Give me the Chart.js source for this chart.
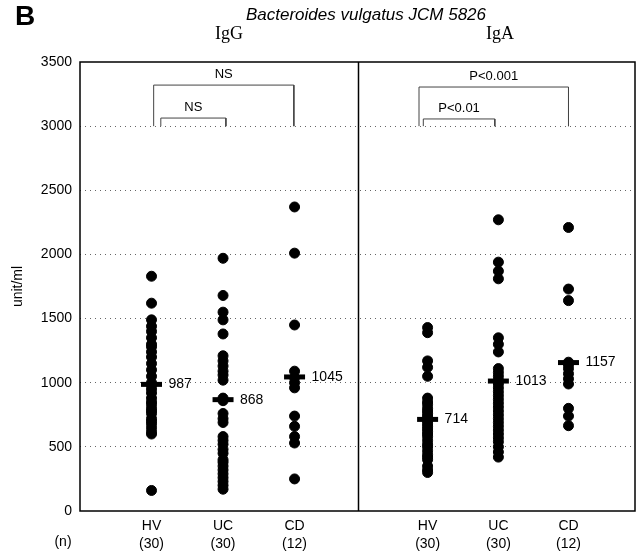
<!DOCTYPE html>
<html>
<head>
<meta charset="utf-8">
<script src="https://cdn.jsdelivr.net/npm/chart.js@4.4.1/dist/chart.umd.min.js"></script>
<style>
  html, body { margin: 0; padding: 0; background: #fff; overflow: hidden; }
  #wrap { width: 642px; height: 553px; position: relative; }
  canvas { display: block; }
</style>
</head>
<body>
<div id="wrap"><canvas id="chart"></canvas></div>
<script>
// ---- data ---------------------------------------------------------------
const GROUPS = ['HV', 'UC', 'CD'];
const GROUP_N = ['(30)', '(30)', '(12)'];
const PANELS = ['IgG', 'IgA'];

// x position of each group column (one unit = one group spacing)
const IGG_X = [1, 2, 3];
const IGA_X = [4.86, 5.85, 6.83];
const PANEL_SPLIT = 3.89;
const X_MAX = 7.76;

const Y_TICKS = [0, 500, 1000, 1500, 2000, 2500, 3000, 3500];

const IGG_HV = [1830, 1620, 1490, 1440, 1400, 1350, 1300, 1280, 1240, 1200, 1150, 1100, 1050, 1000, 980,
                950, 920, 880, 850, 830, 800, 780, 760, 720, 700, 680, 650, 620, 600, 160];
const IGG_UC = [1970, 1680, 1550, 1490, 1380, 1210, 1170, 1130, 1090, 1060, 1020, 880, 860, 760, 720,
                690, 580, 550, 520, 480, 450, 400, 380, 350, 320, 290, 260, 230, 200, 170];
const IGG_CD = [2370, 2010, 1450, 1090, 1040, 1000, 960, 740, 660, 580, 530, 250];

const IGA_HV = [1430, 1390, 1170, 1120, 1050, 880, 850, 830, 800, 780, 760, 740, 720, 700, 680,
                660, 640, 620, 600, 580, 550, 520, 500, 470, 440, 420, 400, 350, 320, 300];
const IGA_UC = [2270, 1940, 1870, 1810, 1350, 1300, 1240, 1110, 1080, 1050, 1020, 990, 960, 930, 900,
                870, 840, 810, 780, 750, 720, 690, 660, 630, 600, 570, 540, 500, 460, 420];
const IGA_CD = [2210, 1730, 1640, 1160, 1140, 1110, 1070, 1030, 990, 800, 740, 665];

const IGG_MEANS = [987, 868, 1045];
const IGA_MEANS = [714, 1013, 1157];

// significance brackets
const BRACKET_LABELS = ['NS', 'NS', 'P<0.001', 'P<0.01'];
const BRACKET_FROM = [1.03, 1.13, 4.74, 4.80];
const BRACKET_TO = [2.99, 2.04, 6.83, 5.80];
const BRACKET_TOP = [3320, 3063, 3305, 3056];
const BRACKET_FOOT = [3000, 3000, 3000, 3000];

// ---- build datasets ------------------------------------------------------
const FONT = '"Liberation Sans", Arial, sans-serif';
const SERIF = '"Liberation Serif", "Times New Roman", serif';

function dotSet(xPos, values) {
    return {
        type: 'scatter',
        data: values.map(v => ({ x: xPos, y: v })),
        backgroundColor: '#000',
        borderColor: '#000',
        borderWidth: 1,
        pointRadius: 5,
        pointHoverRadius: 5,
        order: 2
    };
}

const groupValues = [IGG_HV, IGG_UC, IGG_CD, IGA_HV, IGA_UC, IGA_CD];
const groupX = [...IGG_X, ...IGA_X];
const means = [...IGG_MEANS, ...IGA_MEANS];

const datasets = groupValues.map((vals, i) => dotSet(groupX[i], vals));

datasets.push({
    type: 'scatter',
    label: 'mean',
    data: means.map((m, i) => ({ x: groupX[i], y: m })),
    pointStyle: 'line',
    pointRadius: 10.5,
    pointHoverRadius: 10.5,
    borderColor: '#000',
    borderWidth: 5,
    order: 1
});

BRACKET_LABELS.forEach((lab, i) => {
    datasets.push({
        type: 'line',
        data: [
            { x: BRACKET_FROM[i], y: BRACKET_FOOT[i] },
            { x: BRACKET_FROM[i], y: BRACKET_TOP[i] },
            { x: BRACKET_TO[i], y: BRACKET_TOP[i] },
            { x: BRACKET_TO[i], y: BRACKET_FOOT[i] }
        ],
        borderColor: '#444',
        borderWidth: 1,
        pointRadius: 0,
        fill: false,
        tension: 0,
        order: 3
    });
});

// ---- extra drawing: frame, titles, labels --------------------------------
const decorations = {
    id: 'decorations',
    afterDatasetsDraw(chart) {
        const { ctx, chartArea: a, scales: { x, y } } = chart;
        ctx.save();

        // panel frame + divider
        ctx.strokeStyle = '#000';
        ctx.lineWidth = 1.5;
        ctx.strokeRect(a.left, a.top, a.right - a.left, a.bottom - a.top);
        const xs = Math.round(x.getPixelForValue(PANEL_SPLIT)) + 0.5;
        ctx.beginPath();
        ctx.moveTo(xs, a.top);
        ctx.lineTo(xs, a.bottom);
        ctx.stroke();

        ctx.fillStyle = '#000';

        // mean values
        ctx.font = '14px ' + FONT;
        ctx.textAlign = 'left';
        ctx.textBaseline = 'middle';
        means.forEach((m, i) => {
            ctx.fillText(String(m), x.getPixelForValue(groupX[i]) + 17, y.getPixelForValue(m));
        });

        // bracket labels
        ctx.font = '13px ' + FONT;
        ctx.textAlign = 'center';
        BRACKET_LABELS.forEach((lab, i) => {
            const cx = (x.getPixelForValue(BRACKET_FROM[i]) + x.getPixelForValue(BRACKET_TO[i])) / 2;
            ctx.fillText(lab, cx, y.getPixelForValue(BRACKET_TOP[i]) - 11);
        });

        // panel letter and titles
        ctx.font = 'bold 28px ' + FONT;
        ctx.fillText('B', 25, 17);
        ctx.font = 'italic 17px ' + FONT;
        ctx.fillText('Bacteroides vulgatus JCM 5826', 366, 15);
        ctx.font = '18px ' + SERIF;
        ctx.fillText(PANELS[0], 229, 34);
        ctx.fillText(PANELS[1], 500, 34);

        // (n) row caption
        ctx.font = '14px ' + FONT;
        ctx.fillText('(n)', 63, 542);

        ctx.restore();
    }
};

new Chart(document.getElementById('chart'), {
    data: { datasets },
    options: {
        responsive: true,
        maintainAspectRatio: false,
        animation: false,
        layout: { autoPadding: false, padding: { top: 62, right: 7, left: 0, bottom: 0 } },
        plugins: {
            legend: { display: false },
            tooltip: { enabled: false }
        },
        scales: {
            x: {
                type: 'linear',
                min: 0,
                max: X_MAX,
                border: { display: false },
                grid: { display: false, drawTicks: false },
                afterBuildTicks: s => { s.ticks = groupX.map(v => ({ value: v })); },
                afterFit: s => { s.height = 42; s.paddingLeft = 0; s.paddingRight = 0; },
                ticks: {
                    color: '#000',
                    padding: 6,
                    maxRotation: 0,
                    autoSkip: false,
                    font: { family: FONT, size: 14, lineHeight: 1.3 },
                    callback: (v, i) => [GROUPS[i % 3], GROUP_N[i % 3]]
                }
            },
            y: {
                min: 0,
                max: 3500,
                border: { display: false, dash: [1, 4] },
                afterBuildTicks: s => { s.ticks = Y_TICKS.map(v => ({ value: v })); },
                afterFit: s => { s.width = 80; },
                grid: {
                    drawTicks: false,
                    color: c => (c.tick.value === 0 || c.tick.value === 3500) ? 'rgba(0,0,0,0)' : '#666',
                    lineWidth: 1
                },
                ticks: {
                    color: '#000',
                    padding: 8,
                    font: { family: FONT, size: 14 },
                    callback: v => String(v)
                },
                title: {
                    display: true,
                    text: 'unit/ml',
                    color: '#000',
                    padding: { top: 10, bottom: 0 },
                    font: { family: FONT, size: 14 }
                }
            }
        }
    },
    plugins: [decorations]
});
</script>
</body>
</html>
